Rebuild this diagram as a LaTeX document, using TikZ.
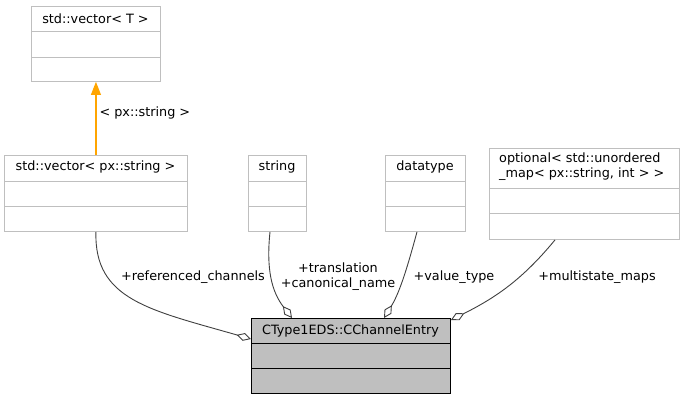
\documentclass[tikz,border=0pt]{standalone}
\usepackage{fontspec}
\setmainfont{DejaVu Sans}
\usetikzlibrary{arrows.meta}
\definecolor{boxgray}{HTML}{BFBFBF}
\definecolor{mainfill}{HTML}{BFBFBF}
\definecolor{edgegray}{HTML}{404040}
\definecolor{inherit}{HTML}{FFA500}
\tikzset{
  classbox/.style={draw=boxgray, line width=0.9pt, inner sep=0pt, anchor=north west},
  mainbox/.style={classbox, draw=black, fill=mainfill},
  divider/.style={draw=boxgray, line width=0.9pt},
  member/.style={draw=edgegray, line width=0.9pt, -{Diamond[open,length=15pt,width=8pt]}},
  derived/.style={draw=inherit, line width=1.1pt, -{Triangle[length=13pt,width=10pt]}, color=inherit},
}
\begin{document}
\begin{tikzpicture}[x=1pt,y=-1pt, font=\fontsize{12.8}{15}\selectfont]
    \useasboundingbox (0,0) rectangle (684,400);
    % classes
    \node[classbox, minimum width=129pt, minimum height=75pt] (vecT) at (31,6) {};
    \node at (95.5,18.5) {std::vector< T >};
    \draw[divider] (31,31) -- (160,31);
    \draw[divider] (31,57) -- (160,57);

    \node[classbox, minimum width=183pt, minimum height=76pt] (vecPx) at (4,155) {};
    \node at (95.5,167) {std::vector< px::string >};
    \draw[divider] (4,181) -- (187,181);
    \draw[divider] (4,206) -- (187,206);

    \node[classbox, minimum width=58pt, minimum height=76pt] (str) at (248,155) {};
    \node at (277,167) {string};
    \draw[divider] (248,181) -- (306,181);
    \draw[divider] (248,206) -- (306,206);

    \node[classbox, minimum width=80pt, minimum height=76pt] (dtype) at (385,155) {};
    \node at (425,167) {datatype};
    \draw[divider] (385,181) -- (465,181);
    \draw[divider] (385,206) -- (465,206);

    \node[classbox, minimum width=190pt, minimum height=91pt] (opt) at (489,148) {};
    \node[align=left, anchor=west, inner sep=0pt] at (499,167) {optional< std::unordered\\\_map< px::string, int > >};
    \draw[divider] (489,188) -- (679,188);
    \draw[divider] (489,213) -- (679,213);

    \node[mainbox, minimum width=199pt, minimum height=75pt] (entry) at (251,318) {};
    \node at (350.5,330.5) {CType1EDS::CChannelEntry};
    \draw (251,343) -- (450,343);
    \draw (251,368) -- (450,368);

    % relations
    \draw[derived] (vecPx.north) -- (vecT.south);
    \node[anchor=west] at (96,113) {< px::string >};

    \draw[member] (vecPx.south) .. controls (94,300) and (150,310) .. ([yshift=-21pt]entry.north west);
    \node at (193,277) {+referenced\_channels};

    \draw[member] (str.south -| 270,0) .. controls (266,270) and (272,292) .. ([xshift=41pt]entry.north west);
    \node[align=center] at (338,277) {+translation\\+canonical\_name};

    \draw[member] (dtype.south -| 417,0) .. controls (408,265) and (400,292) .. ([xshift=133pt]entry.north west);
    \node at (454,277) {+value\_type};

    \draw[member] (opt.south -| 555,0) .. controls (522,280) and (495,298) .. ([yshift=-2pt]entry.north east);
    \node at (597,277) {+multistate\_maps};
\end{tikzpicture}
\end{document}
